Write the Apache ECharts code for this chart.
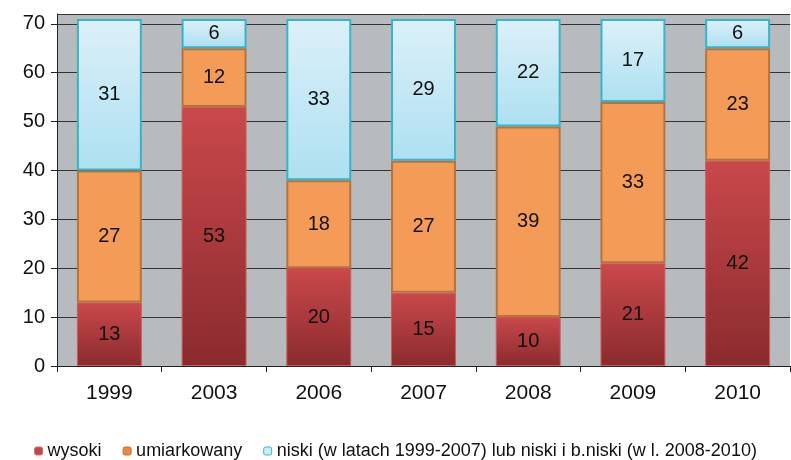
<!DOCTYPE html>
<html>
<head>
<meta charset="utf-8">
<script src="https://cdn.jsdelivr.net/npm/echarts@6/dist/echarts.min.js"></script>
<style>
  html, body { margin: 0; padding: 0; background: #ffffff; }
  #chart { width: 791px; height: 460px; }
</style>
</head>
<body>
<div id="chart"></div>
<script>
  // dane z wykresu
  const years = ['1999', '2003', '2006', '2007', '2008', '2009', '2010'];
  const wysoki = [13, 53, 20, 15, 10, 21, 42];
  const umiarkowany = [27, 12, 18, 27, 39, 33, 23];
  const niski = [31, 6, 33, 29, 22, 17, 6];
  const seriesNames = ['wysoki', 'umiarkowany', 'niski (w latach 1999-2007) lub niski i b.niski (w l. 2008-2010)'];

  const chart = echarts.init(document.getElementById('chart'));

  const grad = (top, bottom) => new echarts.graphic.LinearGradient(0, 0, 0, 1, [
    { offset: 0, color: top },
    { offset: 1, color: bottom }
  ]);

  const labelStyle = {
    show: true,
    position: 'inside',
    color: '#111',
    fontSize: 20,
    fontFamily: 'Liberation Sans, Arial, sans-serif'
  };

  chart.setOption({
    animation: false,
    textStyle: { fontFamily: 'Liberation Sans, Arial, sans-serif' },
    grid: {
      left: 57, right: 1, top: 14, bottom: 94,
      show: true,
      backgroundColor: '#b8bbbe',
      borderWidth: 0
    },
    legend: {
      top: 437,
      left: 'center',
      itemWidth: 8,
      itemHeight: 8,
      itemGap: 21,
      textStyle: { fontSize: 18, color: '#111' },
      data: [
        { name: seriesNames[0], itemStyle: { color: '#c0474a', borderColor: '#d86a6a', borderWidth: 1 } },
        { name: seriesNames[1], itemStyle: { color: '#f0883e', borderColor: '#b5743d', borderWidth: 1 } },
        { name: seriesNames[2], itemStyle: { color: '#c8ecf8', borderColor: '#3bb8cc', borderWidth: 1 } }
      ]
    },
    xAxis: {
      type: 'category',
      data: years,
      axisLine: { lineStyle: { color: '#222', width: 1 } },
      axisTick: { show: true, length: 6, lineStyle: { color: '#222' } },
      axisLabel: { color: '#111', fontSize: 21, margin: 17 }
    },
    yAxis: {
      type: 'value',
      min: 0,
      max: 72,
      interval: 10,
      axisLine: { show: true, lineStyle: { color: '#222' } },
      axisTick: { show: true, length: 6, lineStyle: { color: '#222' } },
      axisLabel: { color: '#111', fontSize: 20, margin: 12, showMaxLabel: false },
      splitLine: { lineStyle: { color: '#333', width: 1 } }
    },
    series: [
      {
        name: seriesNames[0],
        type: 'bar',
        stack: 'all',
        barWidth: '62%',
        data: wysoki,
        label: labelStyle,
        itemStyle: { color: grad('#ca484b', '#8a2b2e'), borderColor: '#cf5a5a', borderWidth: 1 }
      },
      {
        name: seriesNames[1],
        type: 'bar',
        stack: 'all',
        data: umiarkowany,
        label: labelStyle,
        itemStyle: { color: '#f59b58', borderColor: '#b5743d', borderWidth: 2 }
      },
      {
        name: seriesNames[2],
        type: 'bar',
        stack: 'all',
        data: niski,
        label: labelStyle,
        itemStyle: { color: grad('#dcf0f9', '#ade0f1'), borderColor: '#36b4c9', borderWidth: 2 }
      }
    ]
  });
</script>
</body>
</html>
